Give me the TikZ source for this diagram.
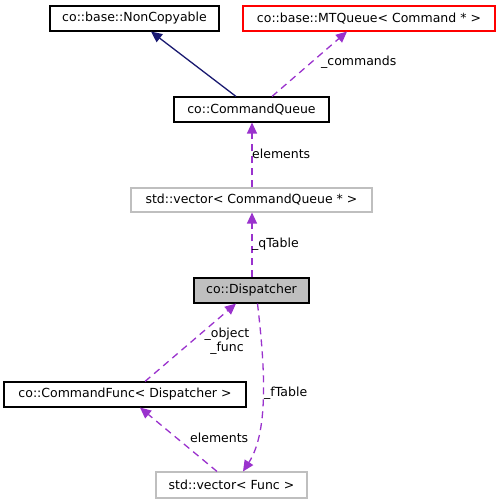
\documentclass[tikz,border=0pt]{standalone}
\usepackage{fontspec}
\setmainfont{DejaVu Sans}
\usetikzlibrary{arrows.meta}
\definecolor{orch}{HTML}{9A32CD}
\definecolor{navyc}{HTML}{191970}
\definecolor{grayb}{HTML}{BFBFBF}
\tikzset{
  box/.style={draw=black, line width=1.1pt, rectangle, inner sep=0pt, font=\fontsize{12.5}{14}\selectfont},
  graybox/.style={box, draw=grayb},
  redbox/.style={box, draw=red},
  dep/.style={draw=orch, line width=1.3pt, dash pattern=on 7pt off 5pt, -{Triangle[length=11pt,width=10pt]}, orch},
  inh/.style={draw=navyc, line width=1.3pt, -{Triangle[length=11pt,width=10pt]}, navyc},
  lbl/.style={font=\fontsize{12.5}{14}\selectfont, inner sep=0pt, text=black}
}
\begin{document}
\begin{tikzpicture}[x=1pt,y=-1pt]
\useasboundingbox (0,0) rectangle (500,504);
\node[box, minimum width=169pt, minimum height=25pt] (nc) at (134.5,18.5) {co::base::NonCopyable};
\node[redbox, minimum width=252pt, minimum height=25pt] (mtq) at (369,18.5) {co::base::MTQueue< Command * >};
\node[box, minimum width=155pt, minimum height=25pt] (cq) at (251.5,109.5) {co::CommandQueue};
\node[graybox, minimum width=241pt, minimum height=24pt] (vcq) at (251.5,200) {std::vector< CommandQueue * >};
\node[box, fill=grayb, minimum width=115pt, minimum height=25pt] (disp) at (251.5,290.5) {co::Dispatcher};
\node[box, minimum width=242pt, minimum height=25pt] (cf) at (125,394.5) {co::CommandFunc< Dispatcher >};
\node[graybox, minimum width=151pt, minimum height=26pt] (vf) at (231.5,485) {std::vector< Func >};

\draw[inh] ([xshift=-15.5pt]cq.north) -- ([xshift=16.5pt]nc.south);
\draw[dep] ([xshift=20.5pt]cq.north) -- ([xshift=-22pt]mtq.south);
\node[lbl, anchor=west] (l1) at (321,62) {\_commands};
\draw[dep] ([xshift=0.5pt]vcq.north) -- ([xshift=0.5pt]cq.south);
\node[lbl, anchor=west] (l2) at (252,154) {elements};
\draw[dep] ([xshift=0.5pt]disp.north) -- ([xshift=0.5pt]vcq.south);
\node[lbl, anchor=west] (l3) at (252,244) {\_qTable};
\draw[dep] ([xshift=20pt]cf.north) -- ([xshift=-15.5pt]disp.south);
\node[lbl, align=center] (l4) at (227,341) {\_object\\\_func};
\draw[dep] ([xshift=-14.5pt]vf.north) -- ([xshift=15pt]cf.south);
\node[lbl, anchor=west] (l5) at (190,438) {elements};
\draw[dep] ([xshift=6pt]disp.south) .. controls (264,360) and (270,430) .. ([xshift=11.5pt]vf.north);
\node[lbl, anchor=west] (l6) at (264,393) {\_fTable};
\end{tikzpicture}
\end{document}
